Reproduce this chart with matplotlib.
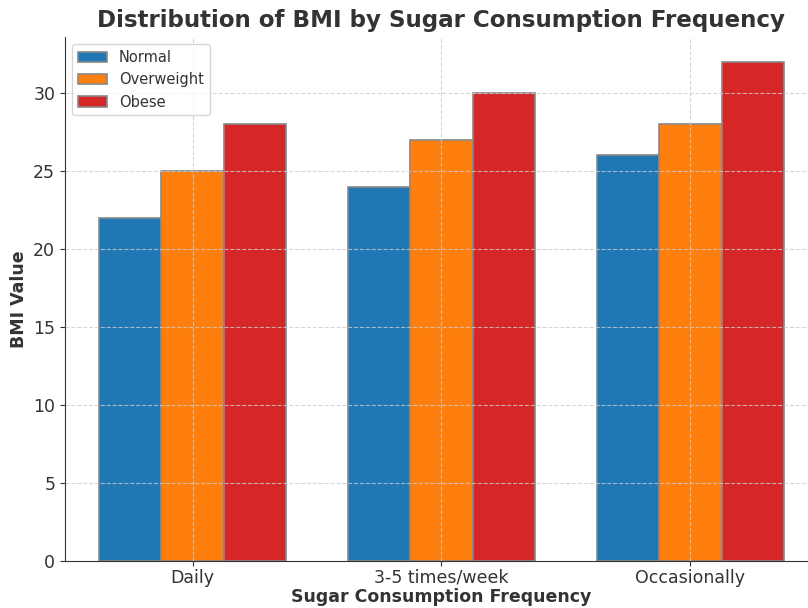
import matplotlib.pyplot as plt
import numpy as np

categories = ["Daily", "3-5 times/week", "Occasionally"]
normal = [22, 24, 26]
overweight = [25, 27, 28]
obese = [28, 30, 32]

plt.rcParams['text.color'] = '#333333'
plt.rcParams['axes.labelcolor'] = '#333333'

fig = plt.figure(figsize=(8.08, 6.08), dpi=100)
ax = fig.add_axes([0.0804, 0.0773, 0.932, 0.862])

x = np.arange(len(categories))
w = 0.25
ax.bar(x - w, normal, w, color='#1f77b4', edgecolor='#888888', linewidth=1.2, label='Normal')
ax.bar(x, overweight, w, color='#ff7f0e', edgecolor='#888888', linewidth=1.2, label='Overweight')
ax.bar(x + w, obese, w, color='#d62728', edgecolor='#888888', linewidth=1.2, label='Obese')

ax.set_xticks(x)
ax.set_xticklabels(categories)
ax.tick_params(labelsize=12.5, colors='#333333')
ax.tick_params(axis='x', pad=2)
ax.set_xlabel("Sugar Consumption Frequency", fontsize=12.5, fontweight='bold', labelpad=1)
ax.set_ylabel("BMI Value", fontsize=12.5, fontweight='bold')
ax.set_title("Distribution of BMI by Sugar Consumption Frequency", fontsize=16.6, fontweight='bold', pad=7)
ax.set_axisbelow(False)
ax.grid(True, linestyle='--', color='#cccccc', linewidth=0.8, alpha=0.8)
ax.spines['top'].set_visible(False)
ax.spines['right'].set_visible(False)
ax.spines['left'].set_color('#333333')
ax.spines['bottom'].set_color('#333333')
ax.legend(loc='upper left', fontsize=10.5)

plt.savefig('out.png')
